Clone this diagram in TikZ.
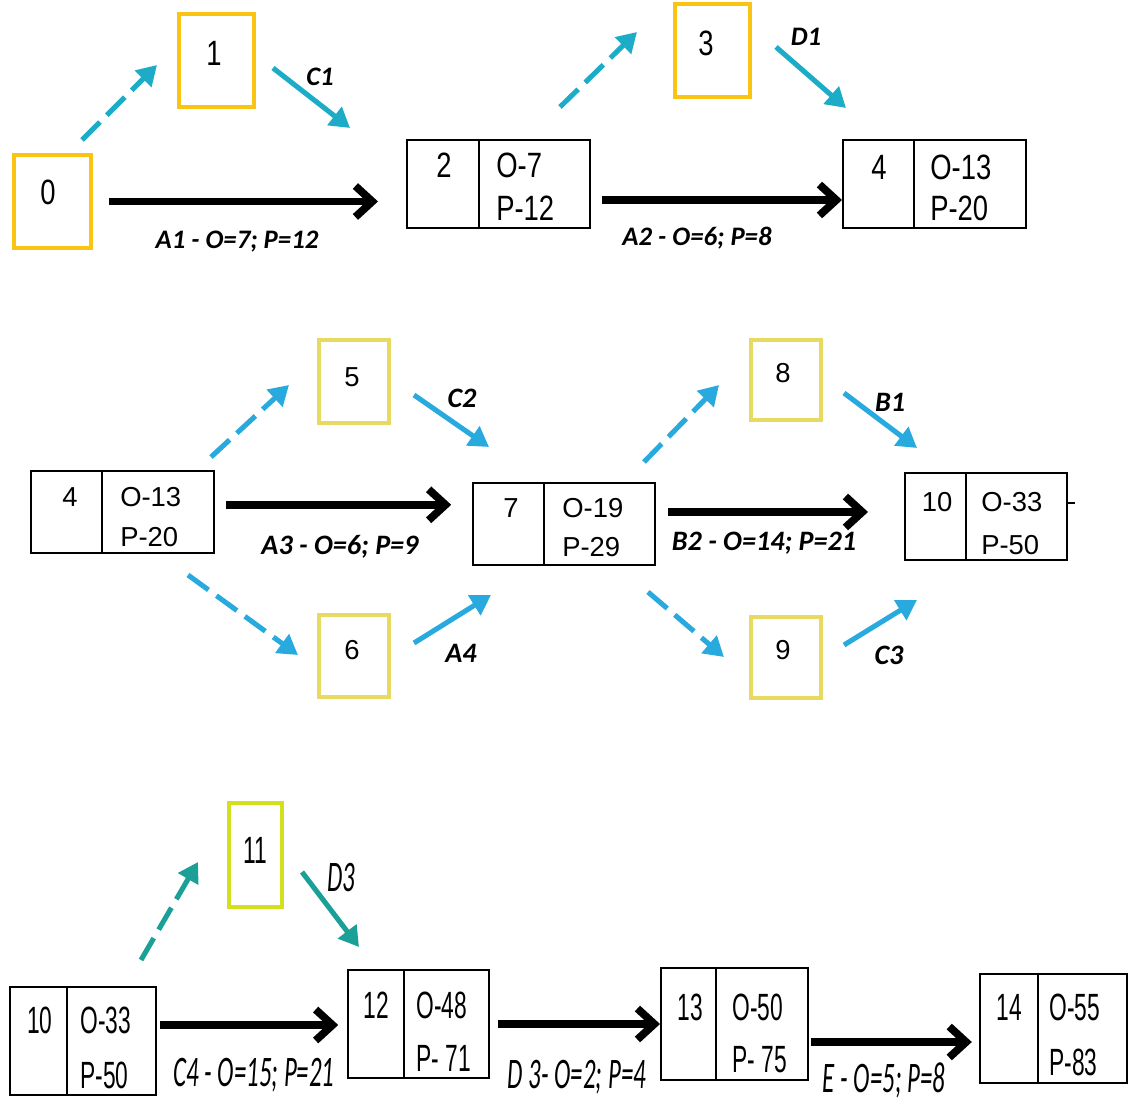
\documentclass[tikz,border=0pt]{standalone}
\usepackage{fontspec}
\setmainfont{Carlito}
\newfontfamily\boxrowA[FakeStretch=0.78]{Liberation Sans}
\newfontfamily\boxrowB{Liberation Sans}
\newfontfamily\boxrowC[FakeStretch=0.6]{Liberation Sans}
\newfontfamily\labrowC[FakeStretch=0.57]{Carlito}
\usetikzlibrary{arrows.meta,fit}

\definecolor{dumgold}{RGB}{250,196,20}
\definecolor{dumpale}{RGB}{232,218,96}
\definecolor{dumlime}{RGB}{210,224,30}
\definecolor{linkcyan}{RGB}{40,170,222}
\definecolor{linkteal}{RGB}{28,172,200}
\definecolor{linkgreen}{RGB}{26,160,150}

\tikzset{
  evbox/.style={draw, line width=1.4pt, inner sep=0pt},
  dumbox/.style={draw=#1, line width=2.2pt, inner sep=0pt},
  numA/.style={inner sep=0pt, font=\boxrowA\fontsize{25}{27}\selectfont},
  numB/.style={inner sep=0pt, font=\boxrowB\fontsize{19.5}{21}\selectfont},
  numC/.style={inner sep=0pt, font=\boxrowC\fontsize{27}{29}\selectfont},
  labA/.style={inner sep=0pt, font=\bfseries\itshape\fontsize{19}{21}\selectfont},
  labB/.style={inner sep=0pt, font=\bfseries\itshape\fontsize{20}{22}\selectfont},
  labC/.style={inner sep=0pt, font=\labrowC\itshape\fontsize{31}{33}\selectfont},
  actarrow/.style={line width=5.5pt, -{Straight Barb[length=12pt,width=22pt]}},
  dumarrow/.style={draw=#1, line width=3.6pt, dash pattern=on 18pt off 7pt, -{Triangle[length=14pt,width=16pt]}},
  linkarrow/.style={draw=#1, line width=3.6pt, -{Triangle[length=14pt,width=16pt]}},
}

\begin{document}
\begin{tikzpicture}[x=0.025cm, y=-0.025cm]
  \useasboundingbox (0,0) rectangle (1128,1108);

  % first row
  \node[dumbox=dumgold, fit={(14,155) (91,248)}] (ev0) {};
  \node[numA] (ev0n) at (48,192) {0};
  \node[dumbox=dumgold, fit={(179,14) (254,107)}] (ev1) {};
  \node[numA] (ev1n) at (214,53) {1};
  \node[dumbox=dumgold, fit={(675,4) (750,97)}] (ev3) {};
  \node[numA] (ev3n) at (706,43) {3};

  \node[evbox, fit={(407,140) (590,228)}] (ev2) {};
  \draw[line width=1.4pt] (479,140) -- (479,228);
  \node[numA] (ev2n) at (444,165) {2};
  \node[numA, anchor=west] (ev2o) at (496,165) {O-7};
  \node[numA, anchor=west] (ev2p) at (496,208) {P-12};

  \node[evbox, fit={(843,140) (1026,228)}] (ev4a) {};
  \draw[line width=1.4pt] (914,140) -- (914,228);
  \node[numA] (ev4an) at (879,167) {4};
  \node[numA, anchor=west] (ev4ao) at (930,167) {O-13};
  \node[numA, anchor=west] (ev4ap) at (930,208) {P-20};

  \draw[actarrow, shorten <=0.4cm, shorten >=0.7cm] (ev0.east) -- (ev0.east -| ev2.west);
  \draw[actarrow, shorten <=0.28cm] ([yshift=-0.4cm]ev2.east) -- ([yshift=-0.4cm]ev2.east -| ev4a.west);
  \node[labA] (la1) at (237,242) {A1 - O=7; P=12};
  \node[labA] (la2) at (697,238) {A2 - O=6; P=8};

  \coordinate (d01s) at (82,140);  \coordinate (d01e) at (157,65);
  \coordinate (l12s) at (273,68);  \coordinate (l12e) at (350,128);
  \coordinate (d23s) at (560,107); \coordinate (d23e) at (637,32);
  \coordinate (l34s) at (776,47);  \coordinate (l34e) at (846,108);
  \draw[dumarrow=linkteal] (d01s) -- (d01e);
  \draw[linkarrow=linkteal] (l12s) -- (l12e);
  \draw[dumarrow=linkteal] (d23s) -- (d23e);
  \draw[linkarrow=linkteal] (l34s) -- (l34e);
  \node[labA] (lc1) at (320,77) {C1};
  \node[labA] (ld1) at (806,37) {D1};

  % second row
  \node[evbox, fit={(31,471) (214,553)}] (ev4b) {};
  \draw[line width=1.4pt] (102,471) -- (102,553);
  \node[numB] (ev4bn) at (70,497) {4};
  \node[numB, anchor=west] (ev4bo) at (120,497) {O-13};
  \node[numB, anchor=west] (ev4bp) at (120,537) {P-20};

  \node[dumbox=dumpale, fit={(319,340) (389,423)}] (ev5) {};
  \node[numB] (ev5n) at (352,377) {5};
  \node[dumbox=dumpale, fit={(319,615) (389,697)}] (ev6) {};
  \node[numB] (ev6n) at (352,650) {6};
  \node[dumbox=dumpale, fit={(751,340) (821,420)}] (ev8) {};
  \node[numB] (ev8n) at (783,373) {8};
  \node[dumbox=dumpale, fit={(751,617) (821,698)}] (ev9) {};
  \node[numB] (ev9n) at (783,650) {9};

  \node[evbox, fit={(473,483) (655,565)}] (ev7) {};
  \draw[line width=1.4pt] (544,483) -- (544,565);
  \node[numB] (ev7n) at (511,508) {7};
  \node[numB, anchor=west] (ev7o) at (562,508) {O-19};
  \node[numB, anchor=west] (ev7p) at (562,547) {P-29};

  \node[evbox, fit={(905,473) (1067,560)}] (ev10b) {};
  \draw[line width=1.4pt] (966,473) -- (966,560);
  \node[numB] (ev10bn) at (937,502) {10};
  \node[numB, anchor=west] (ev10bo) at (981,502) {O-33};
  \node[numB, anchor=west] (ev10bp) at (981,545) {P-50};
  \coordinate (stub) at (1075,503);
  \draw[line width=1.4pt] (ev10b.east |- stub) -- (stub);

  \draw[actarrow, shorten <=0.28cm, shorten >=0.52cm] ([yshift=0.18cm]ev4b.east) -- ([yshift=0.18cm]ev4b.east -| ev7.west);
  \draw[actarrow, shorten <=0.3cm, shorten >=0.9cm] ([yshift=0.3cm]ev7.east) -- ([yshift=0.3cm]ev7.east -| ev10b.west);
  \node[labB] (la3) at (340,547) {A3 - O=6; P=9};
  \node[labB] (lb2) at (764,543) {B2 - O=14; P=21};

  \coordinate (d45s) at (211,457);  \coordinate (d45e) at (289,385);
  \coordinate (l57s) at (414,395);  \coordinate (l57e) at (489,447);
  \coordinate (d46s) at (188,575);  \coordinate (d46e) at (298,655);
  \coordinate (l67s) at (414,643);  \coordinate (l67e) at (491,595);
  \coordinate (d78s) at (644,462);  \coordinate (d78e) at (719,385);
  \coordinate (l810s) at (844,393); \coordinate (l810e) at (917,448);
  \coordinate (d79s) at (648,592);  \coordinate (d79e) at (724,657);
  \coordinate (l910s) at (844,645); \coordinate (l910e) at (917,600);
  \draw[dumarrow=linkcyan] (d45s) -- (d45e);
  \draw[linkarrow=linkcyan] (l57s) -- (l57e);
  \draw[dumarrow=linkcyan] (d46s) -- (d46e);
  \draw[linkarrow=linkcyan] (l67s) -- (l67e);
  \draw[dumarrow=linkcyan] (d78s) -- (d78e);
  \draw[linkarrow=linkcyan] (l810s) -- (l810e);
  \draw[dumarrow=linkcyan] (d79s) -- (d79e);
  \draw[linkarrow=linkcyan] (l910s) -- (l910e);
  \node[labB] (lc2) at (462,398) {C2};
  \node[labB] (la4) at (461,653) {A4};
  \node[labB] (lb1) at (890,402) {B1};
  \node[labB] (lc3) at (889,655) {C3};

  % third row
  \node[evbox, fit={(10,987) (156,1095)}] (ev10c) {};
  \draw[line width=1.4pt] (67,987) -- (67,1095);
  \node[numC] (ev10cn) at (40,1020) {10};
  \node[numC, anchor=west] (ev10co) at (80,1020) {O-33};
  \node[numC, anchor=west] (ev10cp) at (80,1075) {P-50};

  \node[dumbox=dumlime, fit={(229,803) (282,907)}] (ev11) {};
  \node[numC] (ev11n) at (255,850) {11};

  \node[evbox, fit={(348,970) (489,1078)}] (ev12) {};
  \draw[line width=1.4pt] (404,970) -- (404,1078);
  \node[numC] (ev12n) at (376,1005) {12};
  \node[numC, anchor=west] (ev12o) at (416,1005) {O-48};
  \node[numC, anchor=west] (ev12p) at (416,1058) {P- 71};

  \node[evbox, fit={(661,968) (808,1080)}] (ev13) {};
  \draw[line width=1.4pt] (716,968) -- (716,1080);
  \node[numC] (ev13n) at (690,1007) {13};
  \node[numC, anchor=west] (ev13o) at (732,1007) {O-50};
  \node[numC, anchor=west] (ev13p) at (732,1060) {P- 75};

  \node[evbox, fit={(980,974) (1127,1083)}] (ev14) {};
  \draw[line width=1.4pt] (1038,974) -- (1038,1083);
  \node[numC] (ev14n) at (1009,1007) {14};
  \node[numC, anchor=west] (ev14o) at (1049,1007) {O-55};
  \node[numC, anchor=west] (ev14p) at (1049,1062) {P-83};

  \draw[actarrow, shorten <=0.08cm, shorten >=0.22cm] ([yshift=0.4cm]ev10c.east) -- ([yshift=0.4cm]ev10c.east -| ev12.west);
  \draw[actarrow, shorten <=0.2cm] (ev12.east) -- (ev12.east -| ev13.west);
  \draw[actarrow, shorten <=0.05cm, shorten >=0.18cm] ([yshift=-0.45cm]ev13.east) -- ([yshift=-0.45cm]ev13.east -| ev14.west);
  \node[labC] (lc4) at (254,1075) {C4 - O=15; P=21};
  \node[labC] (ld3b) at (577,1077) {D 3- O=2; P=4};
  \node[labC] (le) at (884,1080) {E - O=5; P=8};

  \coordinate (d1011s) at (141,960); \coordinate (d1011e) at (198,862);
  \coordinate (l1112s) at (302,872); \coordinate (l1112e) at (359,947);
  \draw[dumarrow=linkgreen] (d1011s) -- (d1011e);
  \draw[linkarrow=linkgreen] (l1112s) -- (l1112e);
  \node[labC] (ld3) at (341,878) {D3};
\end{tikzpicture}
\end{document}
